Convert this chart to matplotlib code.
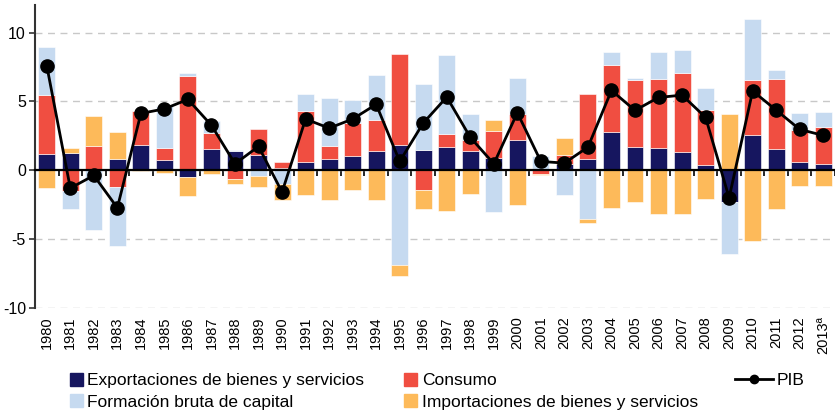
import numpy as np
import matplotlib
matplotlib.use('Agg')
import matplotlib.pyplot as plt
from matplotlib.lines import Line2D
from matplotlib.patches import Patch

plt.rcParams['font.family'] = ['Liberation Sans', 'DejaVu Sans']
plt.rcParams['axes.unicode_minus'] = False

years = [str(y) for y in range(1980, 2013)] + ['2013ª']

exportaciones = [1.16, 1.24, 0.00, 0.78, 1.84, 0.72, -0.53, 1.53, 1.41, 1.09,
                 0.17, 0.56, 0.78, 1.02, 1.38, 1.84, 1.45, 1.70, 1.38, 0.87,
                 2.16, 0.00, 0.46, 0.78, 2.76, 1.70, 1.62, 1.31, 0.34, -2.30,
                 2.55, 1.53, 0.56, 0.48]
consumo = [4.27, -1.55, 1.77, -1.26, 2.43, 0.91, 6.81, 1.14, -0.63, 1.91,
           0.39, 3.71, 0.99, 2.42, 2.23, 6.57, -1.48, 0.92, 0.78, 1.97,
           1.94, -0.26, 0.61, 4.72, 4.88, 4.87, 5.02, 5.74, 4.00, 0.10,
           4.02, 5.11, 2.35, 2.65]
formacion = [3.49, -1.31, -4.32, -4.27, 0.00, 3.00, 0.22, 0.87, 0.07, -0.44,
             -1.02, 1.24, 3.44, 1.63, 3.27, -6.93, 4.83, 5.72, 1.89, -3.08,
             2.62, 1.02, -1.79, -3.56, 0.92, 0.15, 1.92, 1.65, 1.62, -3.81,
             4.41, 0.61, 1.21, 1.06]
importaciones = [-1.33, 0.36, 2.13, 1.98, -0.08, -0.20, -1.33, -0.29, -0.39, -0.82,
                 -1.16, -1.79, -2.18, -1.41, -2.18, -0.80, -1.38, -3.00, -1.72, 0.77,
                 -2.57, -0.10, 1.26, -0.29, -2.79, -2.33, -3.22, -3.22, -2.08, 3.97,
                 -5.16, -2.84, -1.16, -1.16]
pib = [7.59, -1.31, -0.39, -2.74, 4.12, 4.45, 5.14, 3.25, 0.46, 1.72,
       -1.60, 3.71, 3.05, 3.71, 4.78, 0.63, 3.42, 5.31, 2.38, 0.46,
       4.17, 0.63, 0.51, 1.67, 5.79, 4.34, 5.28, 5.45, 3.83, -2.01,
       5.75, 4.36, 2.96, 2.52]

c_exp = '#16165f'
c_con = '#f04e41'
c_fbk = '#c6daf0'
c_imp = '#fdba5a'

fig = plt.figure(figsize=(8.35, 4.15), dpi=100)
ax = fig.add_axes([35/835, 1 - 307.7/415, 1 - 35/835, (307.7 - 5)/415])
ax.set_xlim(-0.5, 33.5)
ax.set_ylim(-10, 12)

x = np.arange(len(years))
n = len(years)
pos = np.zeros(n)
neg = np.zeros(n)
for vals, col in [(exportaciones, c_exp), (consumo, c_con),
                  (formacion, c_fbk), (importaciones, c_imp)]:
    v = np.array(vals)
    b = np.where(v >= 0, pos, neg)
    ax.bar(x, v, width=0.72, bottom=b, color=col, edgecolor='white',
           linewidth=0.4, zorder=2)
    pos += np.clip(v, 0, None)
    neg += np.clip(v, None, 0)

ax.plot(x, pib, color='black', lw=2, marker='o', ms=9.5, zorder=4)

ax.set_yticks([-10, -5, 0, 5, 10])
ax.yaxis.grid(True, linestyle=(0, (5, 4)), color='#c8c8c8', lw=1)
ax.set_axisbelow(True)
ax.tick_params(axis='y', direction='out', length=4, width=1.2,
               color='#333333', labelsize=11.5, pad=2.5)

for s in ['top', 'right']:
    ax.spines[s].set_visible(False)
ax.spines['left'].set_color('#333333')
ax.spines['left'].set_linewidth(1.5)
ax.spines['bottom'].set_position(('data', 0))
ax.spines['bottom'].set_color('black')
ax.spines['bottom'].set_linewidth(1.6)
ax.spines['bottom'].set_zorder(3)

ax.set_xticks(np.arange(0.5, 33.6, 1.0))
ax.set_xticklabels([])
ax.tick_params(axis='x', direction='out', length=4, width=1.2, color='black')

sec = ax.secondary_xaxis('bottom')
sec.set_xticks(x, years, rotation=90, fontsize=10.5)
sec.tick_params(length=0, pad=6)
sec.spines['bottom'].set_visible(False)

h1 = [Patch(color=c_exp), Patch(color=c_fbk), Patch(color=c_con), Patch(color=c_imp)]
l1 = ['Exportaciones de bienes y servicios', 'Formación bruta de capital',
      'Consumo', 'Importaciones de bienes y servicios']
fig.legend(h1, l1, ncol=2, loc='upper left',
           bbox_to_anchor=(70/835, 1 - 373/415), fontsize=12.5,
           frameon=False, handlelength=0.75, handleheight=0.75,
           handletextpad=0.25, columnspacing=2.3, labelspacing=0.34,
           borderpad=0, borderaxespad=0)
h2 = [Line2D([], [], color='black', lw=2, marker='o', ms=6)]
fig.legend(h2, ['PIB'], loc='upper left', bbox_to_anchor=(735/835, 1 - 373/415),
           fontsize=12.5, frameon=False, handlelength=2.2, handletextpad=0.2,
           borderpad=0, borderaxespad=0)

fig.savefig('out.png', dpi=100)
